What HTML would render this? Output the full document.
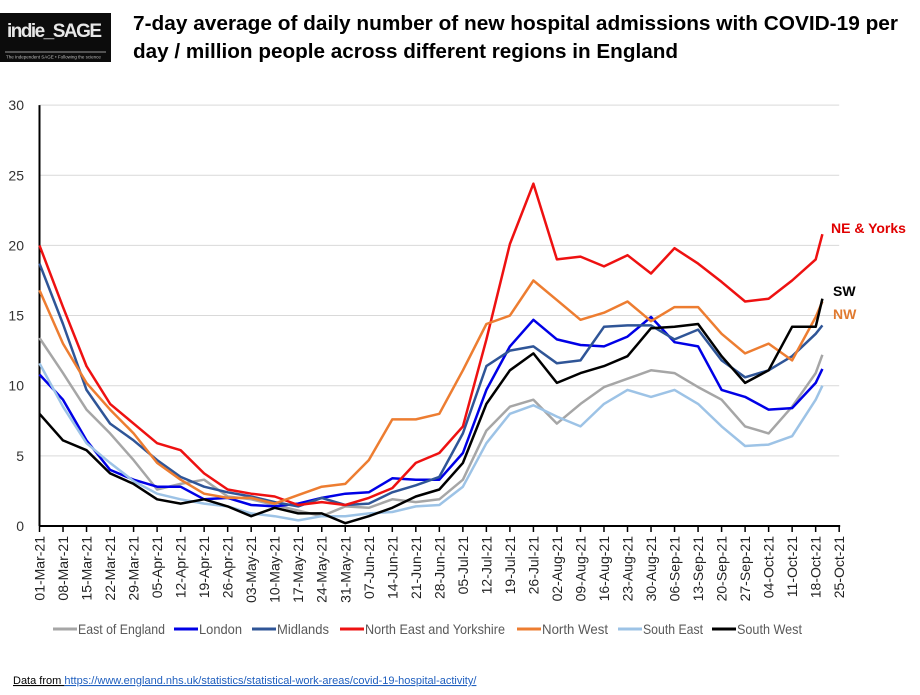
<!DOCTYPE html>
<html><head><meta charset="utf-8"><style>
body{margin:0;background:#fff;width:920px;height:695px;overflow:hidden;font-family:"Liberation Sans",sans-serif}
svg{display:block}
</style></head><body>
<svg id="c" width="920" height="695" viewBox="0 0 920 695" xmlns="http://www.w3.org/2000/svg">
<g>
<rect x="0" y="13" width="111" height="49" fill="#0c0c0c"/>
<text x="7" y="37" fill="#e8e8e8" font-size="19" font-weight="bold" textLength="95">indie_SAGE</text>
<line x1="5" y1="52" x2="106" y2="52" stroke="#999" stroke-width="1"/>
<text x="6" y="58.5" fill="#bbb" font-size="4.5">The Independent SAGE • Following the science</text>
</g>
<g font-weight="bold" font-size="20.5" fill="#000">
<text x="133" y="30" textLength="765" lengthAdjust="spacingAndGlyphs">7-day average of daily number of new hospital admissions with COVID-19 per</text>
<text x="133" y="58" textLength="545" lengthAdjust="spacingAndGlyphs">day / million people across different regions in England</text>
</g>
<g id="grid"></g><g id="yt"></g><g id="xt"></g><g id="series"></g>
<g font-weight="bold" font-size="14">
<text x="831" y="233" fill="#e00000">NE &amp; Yorks</text>
<text x="833" y="296" fill="#000">SW</text>
<text x="833" y="319" fill="#e07a30">NW</text>
</g>
<g id="legend" font-size="14" fill="#595959"></g>
<text x="13" y="684" font-size="11" fill="#000"><tspan text-decoration="underline">Data from </tspan><tspan fill="#1f5fbf" text-decoration="underline">https://www.england.nhs.uk/statistics/statistical-work-areas/covid-19-hospital-activity/</tspan></text>
</svg>
<script>
const tickLabels=["01-Mar-21","08-Mar-21","15-Mar-21","22-Mar-21","29-Mar-21","05-Apr-21","12-Apr-21","19-Apr-21","26-Apr-21","03-May-21","10-May-21","17-May-21","24-May-21","31-May-21","07-Jun-21","14-Jun-21","21-Jun-21","28-Jun-21","05-Jul-21","12-Jul-21","19-Jul-21","26-Jul-21","02-Aug-21","09-Aug-21","16-Aug-21","23-Aug-21","30-Aug-21","06-Sep-21","13-Sep-21","20-Sep-21","27-Sep-21","04-Oct-21","11-Oct-21","18-Oct-21","25-Oct-21"];
const yTicks=[0,5,10,15,20,25,30];
const days=[0,7,14,21,28,35,42,49,56,63,70,77,84,91,98,105,112,119,126,133,140,147,154,161,168,175,182,189,196,203,210,217,224,231,233];
const seriesNames=["East of England","London","Midlands","North East and Yorkshire","North West","South East","South West"];
const seriesColors=["#a6a6a6","#0000e6","#2f5597","#ee1111","#ed7d31","#9dc3e6","#000000"];
const eastEngland=[13.4,10.9,8.3,6.6,4.7,2.6,3.0,3.3,2.1,1.9,1.5,1.1,0.7,1.4,1.3,1.9,1.7,1.9,3.3,6.8,8.5,9.0,7.3,8.7,9.9,10.5,11.1,10.9,9.9,9.0,7.1,6.6,8.5,10.9,12.2];
const london=[10.8,9.0,6.1,4.0,3.3,2.8,2.8,1.9,2.0,1.5,1.4,1.6,2.0,2.3,2.4,3.4,3.3,3.3,5.2,9.7,12.8,14.7,13.3,12.9,12.8,13.5,14.9,13.1,12.8,9.7,9.2,8.3,8.4,10.2,11.2];
const midlands=[18.7,14.4,9.7,7.3,6.1,4.7,3.5,2.8,2.4,2.1,1.7,1.4,2.0,1.5,1.6,2.4,2.9,3.5,6.6,11.4,12.5,12.8,11.6,11.8,14.2,14.3,14.3,13.3,14.0,11.8,10.6,11.1,12.1,13.7,14.3];
const neYorks=[20.0,15.6,11.4,8.7,7.3,5.9,5.4,3.75,2.6,2.3,2.1,1.5,1.7,1.5,2.0,2.7,4.5,5.2,7.1,13.3,20.1,24.4,19.0,19.2,18.5,19.3,18.0,19.8,18.7,17.4,16.0,16.2,17.5,19.0,20.8];
const northWest=[16.8,13.0,10.2,8.3,6.6,4.5,3.3,2.3,2.0,2.0,1.6,2.2,2.8,3.0,4.7,7.6,7.6,8.0,11.1,14.4,15.0,17.5,16.1,14.7,15.2,16.0,14.6,15.6,15.6,13.7,12.3,13.0,11.8,14.9,16.0];
const southEast=[11.6,8.5,5.9,4.5,3.2,2.3,1.9,1.6,1.4,0.9,0.7,0.4,0.7,0.7,0.9,1.0,1.4,1.5,2.8,5.9,8.0,8.6,7.8,7.1,8.7,9.7,9.2,9.7,8.7,7.1,5.7,5.8,6.4,9.0,10.0];
const southWest=[8.0,6.1,5.4,3.75,3.0,1.9,1.6,1.9,1.4,0.7,1.3,0.9,0.9,0.2,0.7,1.3,2.1,2.6,4.5,8.7,11.1,12.3,10.2,10.9,11.4,12.1,14.1,14.2,14.4,12.1,10.2,11.1,14.2,14.2,16.2];
const allSeries=[eastEngland,london,midlands,neYorks,northWest,southEast,southWest];
const NS="http://www.w3.org/2000/svg";
const X0=39.5,PXD=3.36,Y0=526,PXU=14.03;
const xs=d=>X0+d*PXD, ys=v=>Y0-v*PXU;
function mk(t,a,p){const e=document.createElementNS(NS,t);for(const k in a)e.setAttribute(k,a[k]);p.appendChild(e);return e;}
const grid=document.getElementById('grid'),yt=document.getElementById('yt'),xt=document.getElementById('xt');
yTicks.forEach(v=>{
 if(v>0){const l=mk('line',{x1:X0,x2:xs(238),y1:ys(v),y2:ys(v),stroke:'#d9d9d9','stroke-width':1},grid);
 
 }
 const t=mk('text',{x:24,y:ys(v)+5,'text-anchor':'end','font-size':14,fill:'#333'},yt);t.textContent=v;
 
 
});
const ax=mk('line',{x1:X0,x2:X0,y1:ys(30),y2:Y0,stroke:'#000','stroke-width':2},xt);


const bx=mk('line',{x1:X0,x2:xs(238)+1,y1:Y0,y2:Y0,stroke:'#000','stroke-width':2},xt);


tickLabels.forEach((lab,i)=>{
 const x=xs(i*7);
 mk('line',{x1:x,x2:x,y1:Y0,y2:Y0+6,stroke:'#000','stroke-width':1.5},xt);
 const t=mk('text',{x:0,y:0,'text-anchor':'end','font-size':14,fill:'#222',transform:`translate(${x+5},${Y0+10}) rotate(-90)`},xt);
 t.textContent=lab;
 
 
});
const sg=document.getElementById('series');
allSeries.forEach((s,j)=>{
 const d=s.map((v,i)=>(i?'L':'M')+xs(days[i]).toFixed(1)+' '+ys(v).toFixed(1)).join(' ');
 const p=mk('path',{d:d,fill:'none',stroke:seriesColors[j],'stroke-width':2.5,'stroke-linejoin':'round'},sg);
 
 
});
const lg=document.getElementById('legend');
const lx=[53,174,252,340,517,618,712];
const lw=[87,43,52,140,66,60,65];
seriesNames.forEach((n,j)=>{
 const g=mk('g',{},lg);
 
 
 mk('line',{x1:lx[j],x2:lx[j]+24,y1:629,y2:629,stroke:seriesColors[j],'stroke-width':3},g);
 const t=mk('text',{x:lx[j]+25,y:634,textLength:lw[j],lengthAdjust:'spacingAndGlyphs'},g);t.textContent=n;
});
</script>
</body></html>
